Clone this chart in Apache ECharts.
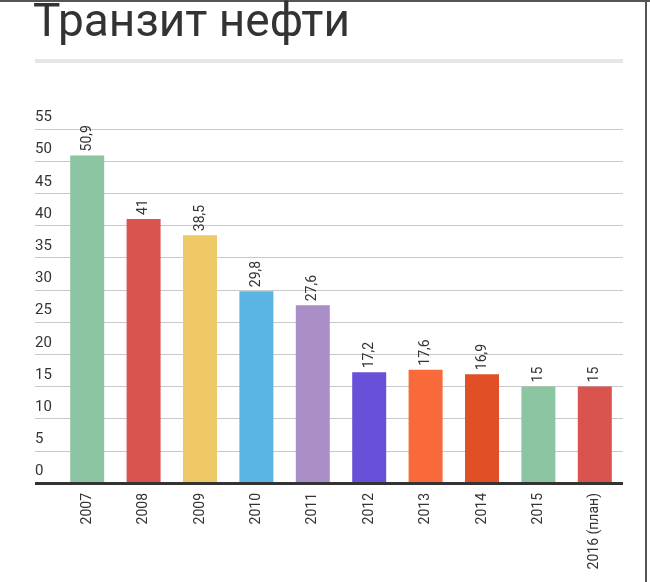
<!DOCTYPE html>
<html>
<head>
<meta charset="utf-8">
<script src="https://cdn.jsdelivr.net/npm/echarts@6/dist/echarts.min.js"></script>
<style>
  html, body { margin: 0; padding: 0; background: #fff; }
  #chart { width: 650px; height: 582px; }
</style>
</head>
<body>
<div id="chart"></div>
<script>
// data
var years = ['2007', '2008', '2009', '2010', '2011', '2012', '2013', '2014', '2015', '2016 (план)'];
var values = [50.9, 41, 38.5, 29.8, 27.6, 17.2, 17.6, 16.9, 15, 15];
var colors = ['#8cc5a2', '#d9534f', '#eec965', '#5bb5e2', '#a98ec7', '#6a4fd9', '#f96a3a', '#e04f25', '#8cc5a2', '#d9534f'];

var chart = echarts.init(document.getElementById('chart'));

var barData = values.map(function (v, i) {
    return { value: v, itemStyle: { color: colors[i] } };
});

chart.setOption({
    animation: false,
    graphic: [
        { type: 'rect', shape: { x: 0, y: 0, width: 650, height: 2 }, style: { fill: '#555' } },
        { type: 'rect', shape: { x: 645, y: 0, width: 2, height: 582 }, style: { fill: '#555' } },
        { type: 'rect', shape: { x: 35, y: 59, width: 588, height: 4 }, style: { fill: '#e6e6e6' } },
        { type: 'text', left: 33, top: 1, style: { text: 'Транзит нефти', fontSize: 46, fill: '#333', fontFamily: 'Roboto' } }
    ],
    grid: [
        { left: 35, right: 27, top: 129, bottom: 99 },
        { left: 59, right: 27, top: 129, bottom: 99 }
    ],
    xAxis: [
        { gridIndex: 0, type: 'category', data: [''], show: false },
        {
            gridIndex: 1, type: 'category', data: years,
            axisLine: { show: false },
            axisTick: { show: false },
            axisLabel: { rotate: 90, color: '#333', fontSize: 14, fontFamily: 'Roboto', margin: 10 }
        }
    ],
    yAxis: [
        {
            gridIndex: 0, type: 'value', min: 0, max: 55, interval: 5,
            axisLine: { show: false },
            axisTick: { show: false },
            splitLine: { lineStyle: { color: '#c8c8c8' } },
            axisLabel: {
                inside: true, verticalAlign: 'bottom', margin: 0, padding: [0, 0, 4, 0],
                color: '#333', fontSize: 15, fontFamily: 'Roboto'
            }
        },
        { gridIndex: 1, type: 'value', min: 0, max: 55, show: false }
    ],
    series: [
        {
            type: 'line', xAxisIndex: 0, yAxisIndex: 0, data: [],
            markLine: {
                silent: true, symbol: 'none', label: { show: false },
                lineStyle: { color: '#333', width: 3, type: 'solid' },
                data: [{ yAxis: 0 }]
            }
        },
        {
            type: 'bar', xAxisIndex: 1, yAxisIndex: 1, barWidth: 34, data: barData,
            label: {
                show: true, position: 'top', rotate: 90, align: 'left', verticalAlign: 'middle',
                distance: 4, color: '#333', fontSize: 14, fontFamily: 'Roboto',
                formatter: function (p) { return String(p.value).replace('.', ','); }
            }
        }
    ]
});
</script>
</body>
</html>
